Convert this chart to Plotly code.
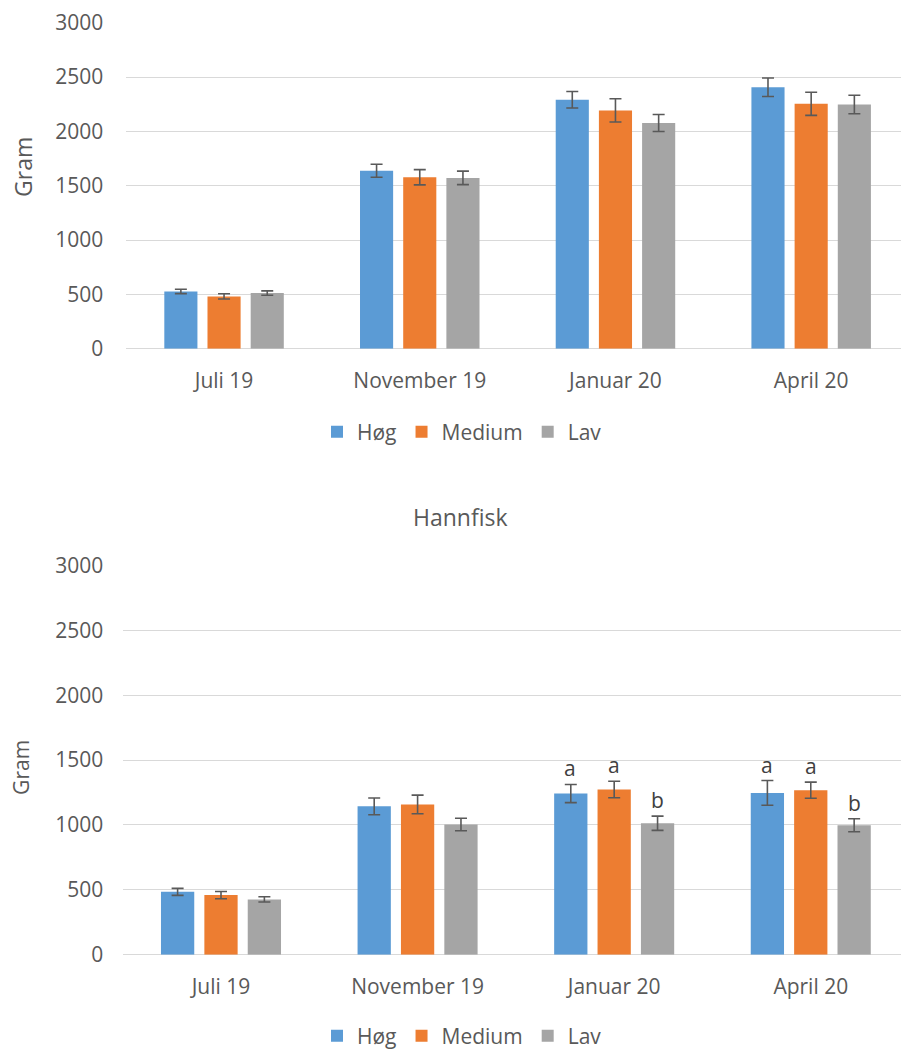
import plotly.graph_objects as go

W, H = 901, 1057

categories = ["Juli 19", "November 19", "Januar 20", "April 20"]
series_names = ["Høg", "Medium", "Lav"]
colors = ["#5B9BD5", "#ED7D31", "#A5A5A5"]

# Top chart (no title)
top_hog = [527, 1638, 2291, 2406]
top_medium = [481, 1578, 2193, 2254]
top_lav = [512, 1572, 2077, 2248]
top_hog_err = [20, 60, 76, 85]
top_medium_err = [24, 70, 107, 106]
top_lav_err = [20, 62, 78, 85]

# Bottom chart: Hannfisk
hann_hog = [484, 1143, 1242, 1247]
hann_medium = [459, 1158, 1273, 1268]
hann_lav = [426, 1003, 1013, 997]
hann_hog_err = [27, 65, 70, 95]
hann_medium_err = [28, 72, 64, 62]
hann_lav_err = [20, 48, 55, 50]

# significance letters for the Hannfisk chart (per category, per series)
hann_letters = [
    ["", "", ""],
    ["", "", ""],
    ["a", "a", "b"],
    ["a", "a", "b"],
]

bottom_title = "Hannfisk"
y_title = "Gram"

FONT = "Open Sans"
TXT = "#595959"
GRID = "#D9D9D9"

fig = go.Figure()

top_vals = [top_hog, top_medium, top_lav]
top_errs = [top_hog_err, top_medium_err, top_lav_err]
hann_vals = [hann_hog, hann_medium, hann_lav]
hann_errs = [hann_hog_err, hann_medium_err, hann_lav_err]

for i, name in enumerate(series_names):
    fig.add_trace(go.Bar(
        x=categories, y=top_vals[i], name=name,
        marker=dict(color=colors[i], line=dict(width=0)),
        error_y=dict(type="data", array=top_errs[i], visible=True,
                     color="#595959", thickness=1.6, width=6),
        xaxis="x", yaxis="y", legend="legend",
    ))
for i, name in enumerate(series_names):
    fig.add_trace(go.Bar(
        x=categories, y=hann_vals[i], name=name,
        marker=dict(color=colors[i], line=dict(width=0)),
        error_y=dict(type="data", array=hann_errs[i], visible=True,
                     color="#595959", thickness=1.6, width=6),
        xaxis="x2", yaxis="y2", legend="legend2",
    ))

def py(t):
    return 1 - t / H

# letters above the error bars
slot_px = 43.7
annotations = []
for ci, cat in enumerate(categories):
    for si in range(3):
        letter = hann_letters[ci][si]
        if not letter:
            continue
        annotations.append(dict(
            x=cat, y=hann_vals[si][ci] + hann_errs[si][ci],
            xref="x2", yref="y2", text=letter, showarrow=False,
            xanchor="center", yanchor="bottom", xshift=(si - 1) * slot_px, yshift=0,
            font=dict(family=FONT, size=21, color="#404040"),
        ))

# axis titles and chart title
annotations.append(dict(x=23 / W, y=py(168), xref="paper", yref="paper", text=y_title,
                        textangle=-90, showarrow=False, xanchor="center", yanchor="middle",
                        font=dict(family=FONT, size=23, color=TXT)))
annotations.append(dict(x=21 / W, y=py(773), xref="paper", yref="paper", text=y_title,
                        textangle=-90, showarrow=False, xanchor="center", yanchor="middle",
                        font=dict(family=FONT, size=21, color=TXT)))
annotations.append(dict(x=460 / W, y=py(520), xref="paper", yref="paper", text=bottom_title,
                        showarrow=False, xanchor="center", yanchor="middle",
                        font=dict(family=FONT, size=23, color=TXT)))

def yax(domain):
    return dict(domain=domain, range=[0, 3002], dtick=500, tick0=0, showgrid=True, gridcolor=GRID,
                gridwidth=1.3, zeroline=True, zerolinecolor=GRID, zerolinewidth=1.3,
                showline=False, ticks="", ticklabelstandoff=22, automargin=False,
                tickfont=dict(family=FONT, size=21, color=TXT), fixedrange=True)

def xax(domain, anchor, end):
    return dict(domain=domain, anchor=anchor, range=[-0.5, end], showgrid=False,
                showline=False, ticks="", ticklabelstandoff=17, automargin=False,
                tickfont=dict(family=FONT, size=21, color=TXT), fixedrange=True)

fig.update_layout(
    width=W, height=H, autosize=False,
    margin=dict(l=0, r=0, t=0, b=0),
    paper_bgcolor="white", plot_bgcolor="white",
    barmode="group", bargap=0.338, bargroupgap=0.233,
    xaxis=xax([126.2 / W, 1], "y", 3.459),
    yaxis=yax([py(351), py(22.7)]),
    xaxis2=xax([122.7 / W, 1], "y2", 3.459),
    yaxis2=yax([py(961), py(569)]),
    legend=dict(orientation="h", x=462 / W, xanchor="center", y=py(435), yanchor="middle",
                font=dict(family=FONT, size=21, color=TXT), bgcolor="rgba(0,0,0,0)"),
    legend2=dict(orientation="h", x=462 / W, xanchor="center", y=py(1043), yanchor="middle",
                 font=dict(family=FONT, size=21, color=TXT), bgcolor="rgba(0,0,0,0)"),
    annotations=annotations,
    showlegend=True,
)

fig.write_html("out.html",
               config={"responsive": False, "displayModeBar": False},
               post_script="document.body.style.margin='0';document.body.style.overflow='hidden';")
